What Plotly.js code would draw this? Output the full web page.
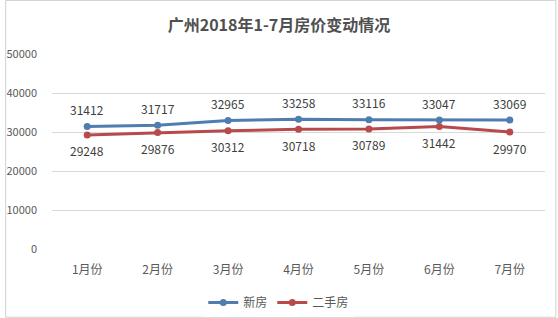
<!DOCTYPE html>
<html><head><meta charset="utf-8">
<script src="https://cdn.plot.ly/plotly-3.0.1.min.js"></script>
<style>html,body{margin:0;padding:0;background:#fff}#c{width:558px;height:318px}</style>
</head><body><div id="c"></div>
<script>
const months = ["1月份","2月份","3月份","4月份","5月份","6月份","7月份"];
const newHouse = [31412,31717,32965,33258,33116,33047,33069];
const resale = [29248,29876,30312,30718,30789,31442,29970];
const yTicks = [0,10000,20000,30000,40000,50000];

const font = "'Microsoft YaHei','Noto Sans CJK SC','Noto Sans',sans-serif";
const traces = [
  {x: months, y: newHouse, name: "新房", type: "scatter", mode: "lines+markers",
   line: {color: "#4f7db0", width: 3}, marker: {color: "#4f7db0", size: 7}},
  {x: months, y: resale, name: "二手房", type: "scatter", mode: "lines+markers",
   line: {color: "#b84a4c", width: 3}, marker: {color: "#b84a4c", size: 7}}
];
const ann = [];
months.forEach((m, i) => {
  ann.push({x: m, y: newHouse[i], text: String(newHouse[i]), showarrow: false, yshift: 17,
            font: {size: 12, color: "#404040", family: font}});
  ann.push({x: m, y: resale[i], text: String(resale[i]), showarrow: false, yshift: -16,
            font: {size: 12, color: "#404040", family: font}});
});
const layout = {
  width: 558, height: 318,
  margin: {l: 52, r: 13, t: 54, b: 69, autoexpand: false},
  paper_bgcolor: "#fff", plot_bgcolor: "#fff",
  font: {family: font, color: "#595959"},
  title: {text: "<b>广州2018年1-7月房价变动情况</b>", font: {size: 16, color: "#505050", family: font},
          x: 0.5, xanchor: "center", y: 0.92, yanchor: "middle"},
  xaxis: {type: "category", range: [-0.5, 6.5], showgrid: false, zeroline: false,
          showline: false, ticks: "", ticklabelstandoff: 12,
          tickfont: {size: 12, color: "#595959"}, fixedrange: true},
  yaxis: {range: [0, 50000], tickvals: yTicks, ticktext: yTicks.map(String),
          showgrid: true, gridcolor: "#d9d9d9", gridwidth: 1, zeroline: false,
          ticks: "", ticklabelstandoff: 14, tickfont: {size: 11, color: "#595959"}},
  showlegend: true,
  legend: {orientation: "h", x: 0.46, xanchor: "center", y: -0.2, yanchor: "top",
           font: {size: 12, color: "#595959"}, itemwidth: 30, tracegroupgap: 0},
  annotations: ann,
  shapes: [{type: "rect", xref: "paper", yref: "paper", x0: -0.094, x1: 1.022, y0: -0.35, y1: 1.275,
            line: {color: "#d0d0d0", width: 1}}]
};
Plotly.newPlot("c", traces, layout, {displayModeBar: false, staticPlot: true});
</script></body></html>
